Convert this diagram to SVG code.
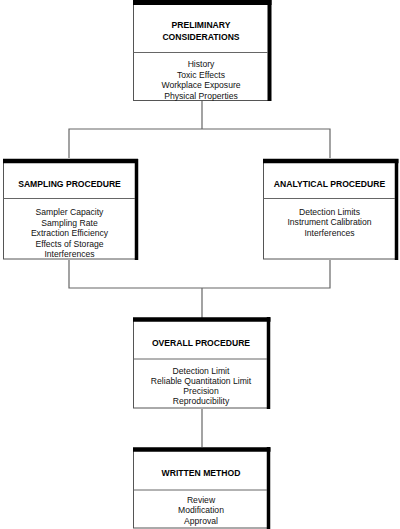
<svg xmlns="http://www.w3.org/2000/svg" width="400" height="529" viewBox="0 0 400 529">
<style>
.box{fill:#fff;stroke:#555;stroke-width:1}
.sh{stroke:#000;fill:none}
.div{stroke:#666;stroke-width:1}
.con{stroke:#666;stroke-width:1.2;fill:none}
.h{font-family:"Liberation Sans",Arial,sans-serif;font-weight:bold;font-size:8.6px;text-anchor:middle;fill:#000}
.t{font-family:"Liberation Sans",Arial,sans-serif;font-size:8.6px;text-anchor:middle;fill:#111}
</style>
<rect width="400" height="529" fill="#fff"/>
<g id="connectors">
<path class="con" d="M202 101 V129 M69 158 V129 H330 V158"/>
<path class="con" d="M69 260 V288 H330 V260 M202 288 V318"/>
<path class="con" d="M202 409 V447"/>
</g>
<g id="preliminary">
<rect class="box" x="133.5" y="4" width="135" height="96.5"/>
<path class="sh" stroke-width="5" d="M133 2.5 H271.5"/>
<path class="sh" stroke-width="4" d="M269.5 0 V101"/>
<line class="div" x1="133.5" y1="52.5" x2="268" y2="52.5"/>
<text class="h" x="201" y="28">PRELIMINARY</text>
<text class="h" x="201" y="40">CONSIDERATIONS</text>
<text class="t" x="201" y="67">History</text>
<text class="t" x="201" y="77.5">Toxic Effects</text>
<text class="t" x="201" y="88">Workplace Exposure</text>
<text class="t" x="201" y="98.5">Physical Properties</text>
</g>
<g id="sampling">
<rect class="box" x="3.5" y="162" width="132" height="97"/>
<path class="sh" stroke-width="4.5" d="M3 161 H138"/>
<path class="sh" stroke-width="3.5" d="M136.5 159 V260"/>
<line class="div" x1="3.5" y1="198.5" x2="135" y2="198.5"/>
<text class="h" x="69.5" y="187">SAMPLING PROCEDURE</text>
<text class="t" x="69.5" y="215">Sampler Capacity</text>
<text class="t" x="69.5" y="225.5">Sampling Rate</text>
<text class="t" x="69.5" y="236">Extraction Efficiency</text>
<text class="t" x="69.5" y="246.5">Effects of Storage</text>
<text class="t" x="69.5" y="257">Interferences</text>
</g>
<g id="analytical">
<rect class="box" x="263.5" y="162" width="132" height="97"/>
<path class="sh" stroke-width="4.5" d="M263 161 H398.5"/>
<path class="sh" stroke-width="3.5" d="M396.5 159 V260"/>
<line class="div" x1="263.5" y1="198.5" x2="395" y2="198.5"/>
<text class="h" x="329.5" y="186.5">ANALYTICAL PROCEDURE</text>
<text class="t" x="329.5" y="214.5">Detection Limits</text>
<text class="t" x="329.5" y="225">Instrument Calibration</text>
<text class="t" x="329.5" y="235.5">Interferences</text>
</g>
<g id="overall">
<rect class="box" x="133.5" y="320" width="134" height="88"/>
<path class="sh" stroke-width="4.5" d="M133 319.5 H270.5"/>
<path class="sh" stroke-width="3.5" d="M268.5 317 V409"/>
<line class="div" x1="133.5" y1="359" x2="267" y2="359"/>
<text class="h" x="201" y="345.5">OVERALL PROCEDURE</text>
<text class="t" x="201" y="373.5">Detection Limit</text>
<text class="t" x="201" y="383.5">Reliable Quantitation Limit</text>
<text class="t" x="201" y="394">Precision</text>
<text class="t" x="201" y="404">Reproducibility</text>
</g>
<g id="written">
<rect class="box" x="133.5" y="450" width="134" height="78"/>
<path class="sh" stroke-width="4.5" d="M133 449.5 H270.5"/>
<path class="sh" stroke-width="3.5" d="M268.5 447 V529"/>
<line class="div" x1="133.5" y1="490" x2="267" y2="490"/>
<text class="h" x="201" y="475.5">WRITTEN METHOD</text>
<text class="t" x="201" y="503">Review</text>
<text class="t" x="201" y="513">Modification</text>
<text class="t" x="201" y="523.5">Approval</text>
</g>
</svg>
